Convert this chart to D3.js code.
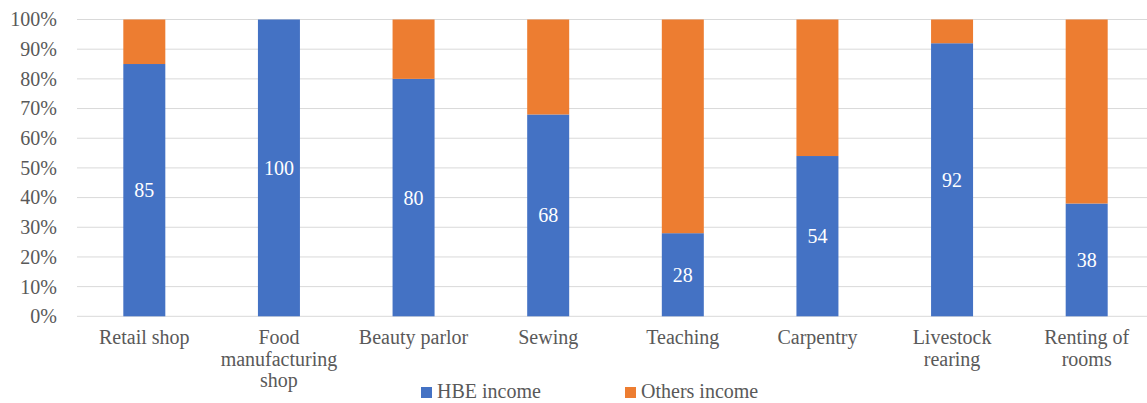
<!DOCTYPE html>
<html><head><meta charset="utf-8">
<script src="https://cdn.jsdelivr.net/npm/d3@7"></script>
</head><body style="margin:0">
<svg id="c" width="1147" height="403" style="display:block" font-family="Liberation Serif"></svg>
<script>
const categories = ["Retail shop", "Food manufacturing shop", "Beauty parlor", "Sewing", "Teaching", "Carpentry", "Livestock rearing", "Renting of rooms"];
const categoryLines = [["Retail shop"], ["Food", "manufacturing", "shop"], ["Beauty parlor"], ["Sewing"], ["Teaching"], ["Carpentry"], ["Livestock", "rearing"], ["Renting of", "rooms"]];
const hbeIncome = [85, 100, 80, 68, 28, 54, 92, 38];
const othersIncome = [15, 0, 20, 32, 72, 46, 8, 62];
const seriesNames = ["HBE income", "Others income"];
const yTicks = [0, 10, 20, 30, 40, 50, 60, 70, 80, 90, 100];

const colors = ["#4472c4", "#ed7d31"];
const ff = '"Liberation Serif"';
const fs = "20px";
const svg = d3.select("#c");
const x = d3.scaleBand().domain(categories).range([77, 1154]).paddingInner(0.688).paddingOuter(0.344);
const y = d3.scaleLinear().domain([0, 100]).range([316.3, 19.5]);

svg.append("g").selectAll("line").data(yTicks).join("line")
  .attr("x1", 77).attr("x2", 1147)
  .attr("y1", d => y(d)).attr("y2", d => y(d))
  .attr("stroke", "#d9d9d9").attr("stroke-width", 1);

const yAxis = d3.axisLeft(y).tickValues(yTicks).tickFormat(d => d + "%").tickSize(0).tickPadding(0);
const ya = svg.append("g").attr("transform", "translate(57,0)").call(yAxis);
ya.select(".domain").remove();
ya.attr("font-family", "Liberation Serif").attr("font-size", 20);
ya.selectAll("text").style("font-family", ff).style("font-size", fs).attr("fill", "#595959");

const stackData = categories.map((c, i) => ({cat: c, hbe: hbeIncome[i], oth: othersIncome[i]}));
const stack = d3.stack().keys(["hbe", "oth"])(stackData);

svg.append("g").selectAll("g").data(stack).join("g")
  .attr("fill", (d, i) => colors[i])
  .selectAll("rect").data(d => d).join("rect")
  .attr("x", d => x(d.data.cat))
  .attr("width", x.bandwidth())
  .attr("y", d => y(d[1]))
  .attr("height", d => y(d[0]) - y(d[1]));

svg.append("g").selectAll("text").data(stackData).join("text")
  .attr("x", d => x(d.cat) + x.bandwidth() / 2)
  .attr("y", d => y(d.hbe / 2))
  .attr("dy", "0.35em")
  .attr("text-anchor", "middle")
  .style("font-family", ff).style("font-size", fs).attr("fill", "#ffffff")
  .text(d => d.hbe);

const cl = svg.append("g").selectAll("text").data(categories).join("text")
  .attr("text-anchor", "middle")
  .style("font-family", ff).style("font-size", fs).attr("fill", "#595959");
cl.each(function(d, i) {
  const t = d3.select(this);
  categoryLines[i].forEach((ln, k) => {
    t.append("tspan").attr("x", x(d) + x.bandwidth() / 2).attr("y", 344 + k * 21.7).text(ln);
  });
});

const legendX = [421, 625];
const lg = svg.append("g").selectAll("g").data(seriesNames).join("g")
  .attr("transform", (d, i) => `translate(${legendX[i]},0)`);
lg.append("rect").attr("x", 0).attr("y", 387).attr("width", 11).attr("height", 11).attr("fill", (d, i) => colors[i]);
lg.append("text").attr("x", 16).attr("y", 398)
  .style("font-family", ff).style("font-size", fs).attr("fill", "#595959").text(d => d);
</script>
</body></html>
